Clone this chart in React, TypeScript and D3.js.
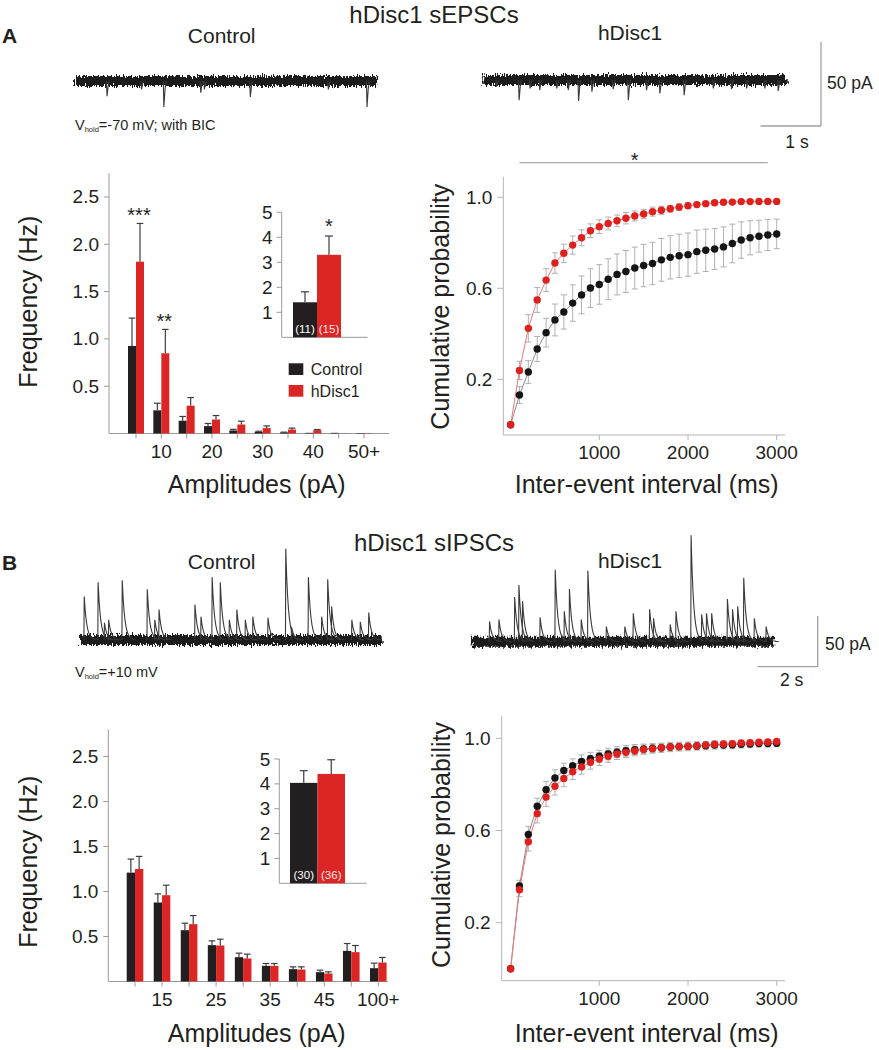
import { useEffect, useRef } from 'react';
import * as d3 from 'd3';

const W = 879;
const H = 1050;
const FONT = '"Liberation Sans", Arial, Helvetica, sans-serif';
const INK = '#231f20';
const BAR_BLACK = '#231f20';
const BAR_RED = '#dc2626';
const DOT_RED = '#e0201c';
const AXIS = '#9a9a9a';

// ---- Panel A : sEPSC amplitude histogram ----
const binsA = ['5', '10', '15', '20', '25', '30', '35', '40', '45', '50+'];
const shownA = ['10', '20', '30', '40', '50+'];
const histCtrlA = [0.925, 0.245, 0.135, 0.078, 0.032, 0.018, 0.01, 0.007, 0.007, 0.005];
const histCtrlErrA = [0.295, 0.075, 0.045, 0.028, 0.012, 0.006, 0.004, 0.002, 0.001, 0.001];
const histHdA = [1.816, 0.848, 0.294, 0.148, 0.095, 0.057, 0.042, 0.035, 0.002, 0.004];
const histHdErrA = [0.404, 0.252, 0.086, 0.042, 0.035, 0.023, 0.015, 0.007, 0.001, 0.001];
const histSigA = ['***', '**', '', '', '', '', '', '', '', ''];

// ---- Panel B : sIPSC amplitude histogram ----
const binsB = ['10', '15', '20', '25', '30', '35', '40', '45', '50', '100+'];
const shownB = ['15', '25', '35', '45', '100+'];
const histCtrlB = [1.21, 0.878, 0.57, 0.404, 0.27, 0.174, 0.137, 0.104, 0.34, 0.148];
const histCtrlErrB = [0.15, 0.096, 0.078, 0.048, 0.045, 0.026, 0.026, 0.022, 0.082, 0.056];
const histHdB = [1.25, 0.959, 0.637, 0.4, 0.256, 0.174, 0.133, 0.089, 0.326, 0.211];
const histHdErrB = [0.14, 0.111, 0.096, 0.07, 0.048, 0.026, 0.03, 0.018, 0.074, 0.056];
const histSigB = ['', '', '', '', '', '', '', '', '', ''];

// ---- insets : mean frequency (Hz) ----
const groups = ['Control', 'hDisc1'];
const meanA = [1.4, 3.3];
const meanErrA = [0.42, 0.75];
const nA = ['(11)', '(15)'];
const meanB = [4.04, 4.4];
const meanErrB = [0.49, 0.57];
const nB = ['(30)', '(36)'];

// ---- cumulative inter-event interval ----
const cumTimes = [0, 100, 200, 300, 400, 500, 600, 700, 800, 900, 1000, 1100, 1200, 1300, 1400, 1500,
  1600, 1700, 1800, 1900, 2000, 2100, 2200, 2300, 2400, 2500, 2600, 2700, 2800, 2900, 3000];
const cumCtrlA = [0, 0.131, 0.232, 0.333, 0.405, 0.461, 0.496, 0.535, 0.571, 0.601, 0.617, 0.64, 0.661,
  0.674, 0.689, 0.7, 0.709, 0.725, 0.736, 0.743, 0.748, 0.761, 0.767, 0.773, 0.782, 0.797, 0.812, 0.822,
  0.829, 0.834, 0.839];
const cumCtrlErrA = [0, 0.037, 0.05, 0.055, 0.063, 0.07, 0.075, 0.08, 0.083, 0.085, 0.087, 0.09, 0.09,
  0.092, 0.092, 0.093, 0.093, 0.094, 0.095, 0.095, 0.095, 0.095, 0.093, 0.09, 0.088, 0.085, 0.08, 0.075,
  0.07, 0.068, 0.065];
const cumHdA = [0, 0.239, 0.424, 0.549, 0.636, 0.711, 0.754, 0.79, 0.822, 0.853, 0.871, 0.885, 0.897,
  0.908, 0.918, 0.927, 0.937, 0.943, 0.95, 0.957, 0.963, 0.968, 0.972, 0.976, 0.978, 0.979, 0.981, 0.981,
  0.982, 0.982, 0.982];
const cumHdErrA = [0, 0.04, 0.06, 0.055, 0.05, 0.045, 0.04, 0.04, 0.035, 0.03, 0.03, 0.028, 0.025, 0.025,
  0.022, 0.02, 0.02, 0.018, 0.015, 0.015, 0.012, 0.01, 0.01, 0.008, 0.007, 0.006, 0.005, 0.005, 0.005,
  0.005, 0.005];
const cumCtrlB = [0, 0.359, 0.583, 0.705, 0.777, 0.828, 0.86, 0.881, 0.9, 0.912, 0.922, 0.932, 0.94,
  0.946, 0.951, 0.954, 0.957, 0.959, 0.962, 0.964, 0.965, 0.967, 0.968, 0.971, 0.971, 0.972, 0.974, 0.975,
  0.977, 0.977, 0.978];
const cumCtrlErrB = [0, 0.025, 0.035, 0.035, 0.035, 0.035, 0.032, 0.03, 0.028, 0.027, 0.026, 0.025, 0.024,
  0.023, 0.022, 0.021, 0.02, 0.02, 0.02, 0.019, 0.019, 0.018, 0.018, 0.018, 0.017, 0.017, 0.016, 0.016,
  0.015, 0.015, 0.015];
const cumHdB = [0, 0.343, 0.551, 0.673, 0.745, 0.792, 0.826, 0.855, 0.876, 0.896, 0.91, 0.922, 0.932,
  0.939, 0.945, 0.951, 0.955, 0.959, 0.962, 0.964, 0.965, 0.967, 0.971, 0.974, 0.975, 0.977, 0.98, 0.981,
  0.983, 0.984, 0.986];
const cumHdErrB = [0, 0.03, 0.04, 0.04, 0.04, 0.038, 0.036, 0.034, 0.032, 0.03, 0.028, 0.026, 0.024, 0.022,
  0.021, 0.02, 0.019, 0.018, 0.017, 0.016, 0.015, 0.015, 0.014, 0.013, 0.012, 0.012, 0.011, 0.011, 0.01,
  0.01, 0.01];
const sigSpanA = [100, 2900];

// ---- example traces: events as [time (s), amplitude (pA)] ----
const eventsCtrlA: [number, number][] = [[0.53, 9], [1.1, 5], [1.47, 15.5], [2.08, 7], [2.14, 5],
  [2.9, 9.5], [4.19, 5], [4.83, 15.5]];
const eventsHdA: [number, number][] = [[0.22, 4], [0.59, 12], [0.77, 5], [0.93, 6], [1.21, 5], [1.4, 6],
  [1.57, 12.5], [1.79, 7], [2.14, 5.5], [2.39, 12], [2.69, 6], [2.91, 8], [3.31, 9], [3.79, 5], [4.09, 5.5],
  [4.34, 5], [4.64, 5], [4.86, 6.5]];
const eventsCtrlB: [number, number][] = [[0.13, 43], [0.59, 57], [0.8, 17], [0.94, 20], [1.39, 59],
  [2.22, 50], [2.47, 20], [2.61, 30], [3.8, 35], [4.0, 23], [4.37, 62], [4.64, 57], [4.94, 20], [5.19, 30],
  [5.47, 20], [5.72, 23], [6.22, 22], [6.81, 90], [7.0, 13], [7.56, 62], [8.0, 23], [8.2, 60], [8.33, 33],
  [9.0, 20], [9.28, 18], [9.56, 27]];
const eventsHdB: [number, number][] = [[0.58, 20], [0.89, 22], [1.41, 44], [1.55, 56], [1.67, 40],
  [2.25, 24], [2.75, 71], [3.05, 30], [3.22, 52], [3.61, 22], [3.83, 70], [4.44, 15], [5.05, 15], [5.33, 28],
  [5.87, 32], [6.0, 23], [6.55, 17], [6.74, 30], [7.24, 105], [7.59, 27], [7.75, 28], [7.92, 28], [8.44, 42],
  [8.61, 32], [8.78, 35], [8.98, 63], [9.33, 23], [9.72, 15]];

type G = d3.Selection<SVGGElement, unknown, null, undefined>;

function text(g: G, x: number, y: number, s: string, size: number, anchor = 'start', weight = 'normal', fill = INK) {
  return g
    .append('text')
    .attr('x', x)
    .attr('y', y)
    .attr('font-size', size)
    .attr('text-anchor', anchor)
    .attr('font-weight', weight)
    .attr('fill', fill)
    .text(s);
}

function line(g: G, x1: number, y1: number, x2: number, y2: number, stroke: string, w = 1) {
  g.append('line')
    .attr('x1', x1).attr('y1', y1).attr('x2', x2).attr('y2', y2)
    .attr('stroke', stroke).attr('stroke-width', w);
}

// asterisks: centre of glyph sits ~0.58em above the baseline
function stars(g: G, x: number, cy: number, s: string, size = 20) {
  if (s) text(g, x, cy + size * 0.58, s, size, 'middle');
}

interface HistBox {
  axisX: number; right: number; bottom: number; top: number; yMax: number;
  first: number; last: number; barW: number;
}

function drawHistogram(g: G, box: HistBox, bins: string[], shown: string[],
  ctrl: number[], ctrlErr: number[], hd: number[], hdErr: number[], sig: string[]) {
  const x = d3.scalePoint<string>().domain(bins).range([box.first, box.last]);
  const y = d3.scaleLinear().domain([0, box.yMax]).range([box.bottom, box.top]);

  line(g, box.axisX, y(0), box.axisX, y(box.yMax), AXIS);
  line(g, box.axisX, y(0), box.right, y(0), AXIS);
  [0.5, 1, 1.5, 2, 2.5].forEach((v) => {
    line(g, box.axisX - 5, y(v), box.axisX, y(v), AXIS);
    text(g, box.axisX - 10, y(v) + 6.5, d3.format('.1f')(v), 19, 'end');
  });
  bins.forEach((b) => {
    line(g, x(b)!, y(0), x(b)!, y(0) + 5, AXIS);
    if (shown.includes(b)) text(g, x(b)!, y(0) + 24, b, 19, 'middle');
  });

  const series = [
    { vals: ctrl, errs: ctrlErr, color: BAR_BLACK, off: -box.barW },
    { vals: hd, errs: hdErr, color: BAR_RED, off: 0 },
  ];
  series.forEach((s) => {
    g.append('g')
      .selectAll('rect')
      .data(bins)
      .join('rect')
      .attr('x', (b) => x(b)! + s.off)
      .attr('width', box.barW)
      .attr('y', (_, i) => y(s.vals[i]))
      .attr('height', (_, i) => y(0) - y(s.vals[i]))
      .attr('fill', s.color);
    bins.forEach((b, i) => {
      const cx = x(b)! + s.off + box.barW / 2;
      if (s.errs[i] < 0.004) return;
      line(g, cx, y(s.vals[i]), cx, y(s.vals[i] + s.errs[i]), '#3c3c3c', 1.2);
      line(g, cx - 3.3, y(s.vals[i] + s.errs[i]), cx + 3.3, y(s.vals[i] + s.errs[i]), '#3c3c3c', 1.2);
    });
  });
  bins.forEach((b, i) => {
    const top = Math.max(ctrl[i] + ctrlErr[i], hd[i] + hdErr[i]);
    stars(g, x(b)! + 3, y(top) - 13, sig[i]);
  });
}

interface InsetBox { axisX: number; right: number; bottom: number; top: number; barL: number; barR: number; }

function drawInset(g: G, box: InsetBox, vals: number[], errs: number[], ns: string[], sig: string) {
  const x = d3.scaleBand<string>().domain(groups).range([box.barL, box.barR]).padding(0);
  const y = d3.scaleLinear().domain([0, 5]).range([box.bottom, box.top]);
  const colors = [BAR_BLACK, BAR_RED];
  const nColors = ['#ffffff', '#fde4e4'];

  line(g, box.axisX, y(0), box.axisX, y(5), AXIS);
  line(g, box.axisX, y(0), box.right, y(0), AXIS);
  [1, 2, 3, 4, 5].forEach((v) => {
    line(g, box.axisX - 5, y(v), box.axisX, y(v), AXIS);
    text(g, box.axisX - 9, y(v) + 6.5, String(v), 19, 'end');
  });
  groups.forEach((k, i) => {
    const x0 = x(k)!;
    const cx = x0 + x.bandwidth() / 2;
    g.append('rect')
      .attr('x', x0)
      .attr('width', x.bandwidth())
      .attr('y', y(vals[i]))
      .attr('height', y(0) - y(vals[i]))
      .attr('fill', colors[i]);
    line(g, cx, y(vals[i]), cx, y(vals[i] + errs[i]), '#3c3c3c', 1.2);
    line(g, cx - 4, y(vals[i] + errs[i]), cx + 4, y(vals[i] + errs[i]), '#3c3c3c', 1.2);
    text(g, cx, y(0) - 4, ns[i], 11.5, 'middle', 'normal', nColors[i]);
  });
  if (sig) {
    const cx = x(groups[1])! + x.bandwidth() / 2;
    stars(g, cx, y(vals[1] + errs[1]) - 14.5, sig);
  }
}

interface CumBox {
  axisX: number; right: number; axisY: number; top: number;
  x0: number; x3000: number; y0: number; y1: number;
}

function drawCumulative(g: G, box: CumBox, ctrl: number[], ctrlErr: number[], hd: number[], hdErr: number[],
  sigSpan: number[] | null) {
  const x = d3.scaleLinear().domain([0, 3000]).range([box.x0, box.x3000]);
  const y = d3.scaleLinear().domain([0, 1]).range([box.y0, box.y1]);
  const CUM_AXIS = '#b4b4b4';

  line(g, box.axisX, box.axisY, box.axisX, box.top, CUM_AXIS);
  line(g, box.axisX, box.axisY, box.right, box.axisY, CUM_AXIS);
  [0.2, 0.6, 1.0].forEach((v) => {
    line(g, box.axisX - 6, y(v), box.axisX, y(v), CUM_AXIS);
    text(g, box.axisX - 11, y(v) + 6.5, d3.format('.1f')(v), 19, 'end');
  });
  [1000, 2000, 3000].forEach((v) => {
    line(g, x(v), box.axisY, x(v), box.axisY + 5, CUM_AXIS);
    text(g, x(v), box.axisY + 24, String(v), 19, 'middle');
  });

  const series = [
    { vals: ctrl, errs: ctrlErr, dot: '#151515', stroke: '#8a8a8a' },
    { vals: hd, errs: hdErr, dot: DOT_RED, stroke: '#f07878' },
  ];
  series.forEach((s) => {
    cumTimes.forEach((t, i) => {
      if (s.errs[i] <= 0) return;
      const lo = y(s.vals[i] - s.errs[i]);
      const hi = y(s.vals[i] + s.errs[i]);
      line(g, x(t), lo, x(t), hi, '#b0b0b0', 1);
      line(g, x(t) - 3, lo, x(t) + 3, lo, '#b0b0b0', 1);
      line(g, x(t) - 3, hi, x(t) + 3, hi, '#b0b0b0', 1);
    });
  });
  series.forEach((s) => {
    const path = d3
      .line<number>()
      .x((_, i) => x(cumTimes[i]))
      .y((v) => y(v));
    g.append('path').attr('d', path(s.vals)).attr('fill', 'none').attr('stroke', s.stroke).attr('stroke-width', 1);
  });
  series.forEach((s) => {
    g.append('g')
      .selectAll('circle')
      .data(s.vals)
      .join('circle')
      .attr('cx', (_, i) => x(cumTimes[i]))
      .attr('cy', (v) => y(v))
      .attr('r', 3.7)
      .attr('fill', s.dot);
  });

  if (sigSpan) {
    const ly = box.top - 14;
    line(g, x(sigSpan[0]), ly, x(sigSpan[1]), ly, '#a8a8a8', 1.2);
    stars(g, (x(sigSpan[0]) + x(sigSpan[1])) / 2 - 9, ly - 7.5, '*');
  }
}

interface TraceBox { x0: number; x1: number; dur: number; baseY: number; ppa: number; band: number; up: boolean; }

function drawTrace(g: G, box: TraceBox, events: [number, number][], filterId: string) {
  const x = d3.scaleLinear().domain([0, box.dur]).range([box.x0, box.x1]);
  const b = box.baseY;
  g.append('line')
    .attr('x1', box.x0).attr('x2', box.x1).attr('y1', b).attr('y2', b)
    .attr('stroke', '#1b1b1b')
    .attr('stroke-width', box.band)
    .attr('filter', `url(#${filterId})`);
  const ev = g.append('g').attr('fill', 'none').attr('stroke', '#3a3a3a').attr('stroke-width', 1.1);
  events.forEach(([t, amp]) => {
    const px = x(t);
    const a = amp * box.ppa;
    if (!box.up) {
      ev.append('path').attr('d', `M${px - 0.6},${b} L${px},${b + a} L${px + 1.2},${b + a * 0.3} L${px + 2.2},${b}`);
    } else {
      const pts: [number, number][] = [[px, b], [px + 0.3, b - a]];
      d3.range(1, 15).forEach((k) => pts.push([px + 0.3 + k * 0.9, b - a * Math.exp(-k / 2.8)]));
      ev.append('path').attr('d', d3.line()(pts));
    }
  });
}

function scaleBar(g: G, cx: number, cy: number, vLen: number, hLen: number) {
  line(g, cx, cy, cx, cy - vLen, '#a0a0a0', 1.3);
  line(g, cx, cy, cx - hLen, cy, '#a0a0a0', 1.3);
}

function vhold(g: G, x: number, y: number, rest: string) {
  const t = g.append('text').attr('x', x).attr('y', y).attr('font-size', 14.5).attr('fill', INK);
  t.append('tspan').attr('fill', INK).text('V');
  t.append('tspan').attr('fill', INK).attr('font-size', 7.5).attr('dy', 2).text('hold');
  t.append('tspan').attr('fill', INK).attr('dy', -2).text(rest);
}

export default function App() {
  const svgRef = useRef<SVGSVGElement>(null);

  useEffect(() => {
    if (!svgRef.current) return;
    const svg = d3.select(svgRef.current);
    svg.selectAll('*').remove();

    const defs = svg.append('defs');
    [['noiseA', 1.1, 9], ['noiseB', 0.8, 9]].forEach(([id, freq, amt]) => {
      const f = defs
        .append('filter')
        .attr('id', id as string)
        .attr('filterUnits', 'userSpaceOnUse')
        .attr('x', 0).attr('y', 0).attr('width', W).attr('height', H);
      f.append('feTurbulence')
        .attr('type', 'fractalNoise')
        .attr('baseFrequency', `${freq} 0.2`)
        .attr('numOctaves', 2)
        .attr('seed', 7)
        .attr('result', 'turb');
      f.append('feDisplacementMap')
        .attr('in', 'SourceGraphic')
        .attr('in2', 'turb')
        .attr('scale', amt as number)
        .attr('xChannelSelector', 'R')
        .attr('yChannelSelector', 'G');
    });

    const g = svg.append('g').attr('font-family', FONT) as unknown as G;

    // ---------- Panel A ----------
    text(g, 434, 22.5, 'hDisc1 sEPSCs', 24, 'middle');
    text(g, 2, 43, 'A', 21, 'start', 'bold');
    text(g, 221.7, 42.7, 'Control', 21, 'middle');
    text(g, 630, 40, 'hDisc1', 21, 'middle');

    const ppaA = 84 / 50;
    const ppsA = (377.3 - 75) / 5;
    drawTrace(g, { x0: 75, x1: 377.3, dur: 5, baseY: 81, ppa: ppaA, band: 10, up: false }, eventsCtrlA, 'noiseA');
    drawTrace(g, { x0: 483.3, x1: 786.7, dur: 5, baseY: 80, ppa: ppaA, band: 10, up: false }, eventsHdA, 'noiseA');
    scaleBar(g, 821, 126, 50 * ppaA, 1 * ppsA);
    text(g, 827, 88.5, '50 pA', 17.5);
    text(g, 797, 148.3, '1 s', 17.5, 'middle');
    vhold(g, 75, 130, '=-70 mV; with BIC');

    drawHistogram(g, { axisX: 109, right: 389, bottom: 433.5, top: 173.3, yMax: 2.75, first: 136, last: 364, barW: 8 },
      binsA, shownA, histCtrlA, histCtrlErrA, histHdA, histHdErrA, histSigA);
    drawInset(g, { axisX: 281.7, right: 367.7, bottom: 337.3, top: 212.3, barL: 293, barR: 341 },
      meanA, meanErrA, nA, '*');

    // legend
    const leg = [
      { name: 'Control', color: BAR_BLACK },
      { name: 'hDisc1', color: BAR_RED },
    ];
    leg.forEach((l, i) => {
      g.append('rect').attr('x', 288.7).attr('y', 363.3 + i * 21.7).attr('width', 14.6).attr('height', 11.7).attr('fill', l.color);
      text(g, 310.7, 375 + i * 21.7, l.name, 16);
    });

    text(g, 256.7, 493, 'Amplitudes (pA)', 25, 'middle');
    g.append('text')
      .attr('transform', 'translate(37,301.7) rotate(-90)')
      .attr('text-anchor', 'middle')
      .attr('font-size', 25)
      .attr('fill', INK)
      .text('Frequency (Hz)');

    drawCumulative(g, { axisX: 503.3, right: 785, axisY: 435, top: 176.7, x0: 510.6, x3000: 776.7, y0: 424.8, y1: 197.3 },
      cumCtrlA, cumCtrlErrA, cumHdA, cumHdErrA, sigSpanA);
    text(g, 646.7, 493, 'Inter-event interval (ms)', 25, 'middle');
    g.append('text')
      .attr('transform', 'translate(449,306.7) rotate(-90)')
      .attr('text-anchor', 'middle')
      .attr('font-size', 25)
      .attr('fill', INK)
      .text('Cumulative probability');

    // ---------- Panel B ----------
    text(g, 434, 551, 'hDisc1 sIPSCs', 24, 'middle');
    text(g, 2, 570, 'B', 21, 'start', 'bold');
    text(g, 221.7, 569.3, 'Control', 21, 'middle');
    text(g, 630, 568.3, 'hDisc1', 21, 'middle');

    const ppaB = 50.7 / 50;
    const ppsB = (381.7 - 80) / 10;
    drawTrace(g, { x0: 80, x1: 381.7, dur: 10, baseY: 640, ppa: ppaB, band: 10, up: true }, eventsCtrlB, 'noiseB');
    drawTrace(g, { x0: 471.7, x1: 774.3, dur: 10, baseY: 641.7, ppa: ppaB, band: 10, up: true }, eventsHdB, 'noiseB');
    scaleBar(g, 817.7, 666.7, 50 * ppaB, 2 * ppsB);
    text(g, 825, 650, '50 pA', 17.5);
    text(g, 791.7, 686, '2 s', 17.5, 'middle');
    vhold(g, 75, 676.7, '=+10 mV');

    drawHistogram(g, { axisX: 108.3, right: 388, bottom: 981.5, top: 729.5, yMax: 2.8, first: 135, last: 378.3, barW: 8.3 },
      binsB, shownB, histCtrlB, histCtrlErrB, histHdB, histHdErrB, histSigB);
    drawInset(g, { axisX: 279.3, right: 366.7, bottom: 883.3, top: 759, barL: 290, barR: 345 },
      meanB, meanErrB, nB, '');

    text(g, 256.7, 1041.7, 'Amplitudes (pA)', 25, 'middle');
    g.append('text')
      .attr('transform', 'translate(37,861.7) rotate(-90)')
      .attr('text-anchor', 'middle')
      .attr('font-size', 25)
      .attr('fill', INK)
      .text('Frequency (Hz)');

    drawCumulative(g, { axisX: 501.7, right: 785, axisY: 980.7, top: 716, x0: 510.6, x3000: 776.7, y0: 968.8, y1: 738.3 },
      cumCtrlB, cumCtrlErrB, cumHdB, cumHdErrB, null);
    text(g, 646.7, 1041.7, 'Inter-event interval (ms)', 25, 'middle');
    g.append('text')
      .attr('transform', 'translate(450,845) rotate(-90)')
      .attr('text-anchor', 'middle')
      .attr('font-size', 25)
      .attr('fill', INK)
      .text('Cumulative probability');
  }, []);

  return (
    <svg
      ref={svgRef}
      width={W}
      height={H}
      viewBox={`0 0 ${W} ${H}`}
      style={{ position: 'absolute', left: 0, top: 0, background: '#fff' }}
    />
  );
}
